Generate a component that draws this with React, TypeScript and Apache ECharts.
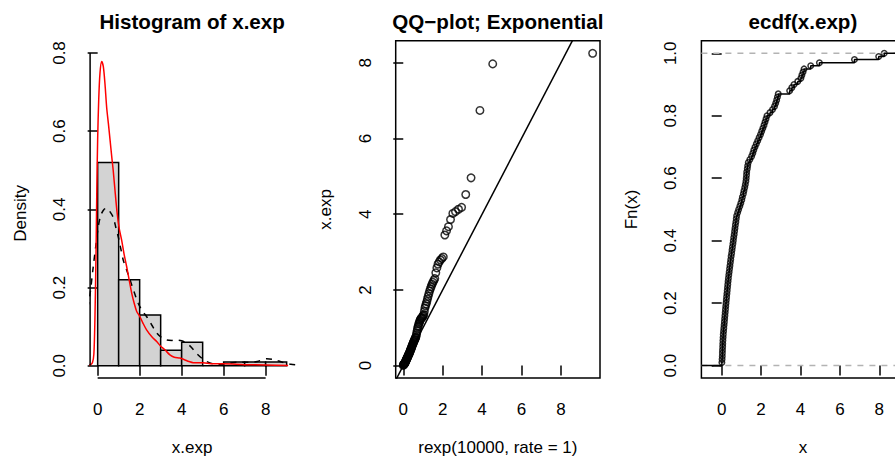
import React, { useEffect, useRef } from "react";
import * as echarts from "echarts";

// ---------------- data ----------------
const histBreaks = [0, 1, 2, 3, 4, 5, 6, 7, 8, 9];
const histDensity = [0.52, 0.22, 0.13, 0.04, 0.06, 0, 0.01, 0.01, 0.01];

// sorted sample x.exp (n = 100), read from the ECDF / QQ panels
const xExpSorted = [
  0.01, 0.02, 0.03, 0.035, 0.04, 0.05, 0.055, 0.062, 0.071, 0.08,
  0.094, 0.108, 0.122, 0.136, 0.15, 0.164, 0.178, 0.192, 0.206, 0.22,
  0.235, 0.25, 0.265, 0.28, 0.295, 0.31, 0.325, 0.34, 0.36, 0.38,
  0.4, 0.42, 0.44, 0.46, 0.48, 0.505, 0.525, 0.545, 0.57, 0.59,
  0.61, 0.635, 0.655, 0.675, 0.695, 0.72, 0.74, 0.76, 0.81, 0.86,
  0.92, 0.97, 1.02, 1.05, 1.1, 1.13, 1.17, 1.2, 1.23, 1.245,
  1.26, 1.27, 1.3, 1.32, 1.35, 1.43, 1.52, 1.58, 1.63, 1.69,
  1.76, 1.83, 1.9, 1.97, 2.03, 2.09, 2.15, 2.2, 2.25, 2.3,
  2.45, 2.58, 2.68, 2.74, 2.79, 2.83, 2.87, 3.45, 3.56, 3.67,
  3.86, 4.02, 4.07, 4.13, 4.18, 4.52, 4.96, 6.74, 7.97, 8.25,
];

// quantiles of rexp(10000, rate = 1) used as the QQ x positions
const qqTheoretical = [
  0, 0.01, 0.02, 0.031, 0.041, 0.052, 0.063, 0.073, 0.084, 0.095,
  0.106, 0.118, 0.129, 0.141, 0.152, 0.164, 0.176, 0.188, 0.201, 0.213,
  0.226, 0.238, 0.251, 0.264, 0.278, 0.291, 0.305, 0.318, 0.332, 0.347,
  0.361, 0.376, 0.39, 0.405, 0.421, 0.436, 0.452, 0.468, 0.484, 0.501,
  0.518, 0.535, 0.552, 0.57, 0.588, 0.606, 0.625, 0.644, 0.663, 0.683,
  0.703, 0.724, 0.745, 0.766, 0.788, 0.811, 0.834, 0.857, 0.882, 0.906,
  0.932, 0.958, 0.984, 1.012, 1.04, 1.069, 1.099, 1.129, 1.161, 1.194,
  1.228, 1.263, 1.299, 1.337, 1.376, 1.417, 1.46, 1.504, 1.551, 1.599,
  1.651, 1.705, 1.762, 1.823, 1.887, 1.956, 2.03, 2.11, 2.197, 2.293,
  2.398, 2.516, 2.649, 2.803, 2.96, 3.17, 3.44, 3.89, 4.54, 9.61,
];

// density(x.exp) — dashed black
const densityDashed: number[][] = [
  [-1.28, 0.003], [-1.0, 0.02], [-0.7, 0.08], [-0.5, 0.14], [-0.37, 0.18],
  [-0.21, 0.254], [-0.08, 0.31], [0.03, 0.356], [0.15, 0.385], [0.3, 0.4],
  [0.43, 0.403], [0.55, 0.397], [0.74, 0.38], [0.86, 0.355], [0.98, 0.33],
  [1.1, 0.3], [1.22, 0.27], [1.38, 0.245], [1.54, 0.22], [1.73, 0.19],
  [1.93, 0.16], [2.13, 0.14], [2.33, 0.126], [2.57, 0.105], [2.81, 0.084],
  [3.05, 0.072], [3.29, 0.066], [3.55, 0.065], [3.76, 0.066], [4.0, 0.064],
  [4.24, 0.058], [4.47, 0.047], [4.71, 0.032], [4.95, 0.02], [5.19, 0.011],
  [5.5, 0.005], [5.9, 0.004], [6.3, 0.007], [6.74, 0.0095], [7.2, 0.009],
  [7.6, 0.011], [8.05, 0.018], [8.4, 0.016], [8.8, 0.009], [9.2, 0.004],
  [9.54, 0.002],
];

// red density curve
const densityRed: number[][] = [
  [-0.6, 0], [-0.37, 0.002], [-0.25, 0.008], [-0.18, 0.03], [-0.13, 0.12],
  [-0.08, 0.28], [-0.04, 0.45], [0.0, 0.58], [0.05, 0.68], [0.11, 0.748],
  [0.19, 0.778], [0.27, 0.765], [0.35, 0.72], [0.43, 0.66], [0.51, 0.62],
  [0.59, 0.578], [0.67, 0.535], [0.74, 0.5], [0.84, 0.44], [0.93, 0.39],
  [1.03, 0.35], [1.14, 0.322], [1.26, 0.285], [1.38, 0.254], [1.5, 0.22],
  [1.62, 0.186], [1.74, 0.16], [1.86, 0.139], [2.01, 0.126], [2.15, 0.11],
  [2.33, 0.092], [2.57, 0.075], [2.81, 0.062], [3.0, 0.05], [3.2, 0.041],
  [3.44, 0.028], [3.65, 0.022], [3.92, 0.02], [4.16, 0.015], [4.35, 0.011],
  [4.55, 0.008], [5.03, 0.0075], [5.5, 0.005], [5.98, 0.005], [7.0, 0.003],
  [8.0, 0.002], [9.07, 0.001],
];

const histXTicks = [0, 2, 4, 6, 8];
const histYTicks = [0, 0.2, 0.4, 0.6, 0.8];
const qqXTicks = [0, 2, 4, 6, 8];
const qqYTicks = [0, 2, 4, 6, 8];
const ecdfXTicks = [0, 2, 4, 6, 8];
const ecdfYTicks = [0, 0.2, 0.4, 0.6, 0.8, 1.0];

const panelTitles = ["Histogram of x.exp", "QQ\u2212plot; Exponential", "ecdf(x.exp)"];
const xAxisTitles = ["x.exp", "rexp(10000, rate = 1)", "x"];
const yAxisTitles = ["Density", "x.exp", "Fn(x)"];

// ---------------- layout ----------------
const FONT = "'Liberation Sans', Arial, Helvetica, sans-serif";
const LW = 1.5;

const histX = [-0.36, 9.36];
const histY = [-0.0312, 0.811];
const qqX = [-0.384, 9.984];
const qqY = [-0.33, 8.58];
const ecdfX = [-1.03, 9.28];
const ecdfY = [-0.04, 1.04];

const grids = [
  { left: 90.1, top: 48.7, width: 204.1, height: 329.3, show: false },
  { left: 395.7, top: 40.8, width: 204.3, height: 337.3, show: true },
  { left: 701.4, top: 40.8, width: 203.1, height: 337.3, show: true },
];

function mkAxis(gridIndex: number, range: number[], ticks: number[], decimals: number, isY: boolean) {
  return {
    type: "value",
    gridIndex,
    min: range[0],
    max: range[1],
    splitLine: { show: false },
    axisLine: { show: false },
    axisTick: {
      show: true,
      inside: false,
      length: 10,
      customValues: ticks,
      lineStyle: { color: "#000", width: LW },
    },
    axisLabel: {
      show: true,
      customValues: ticks,
      formatter: (v: number) => v.toFixed(decimals),
      rotate: isY ? 90 : 0,
      margin: isY ? 22 : 23,
      color: "#000",
      fontSize: 17,
      fontFamily: FONT,
    },
  };
}

function textEl(text: string, x: number, y: number, size: number, bold: boolean, rotation = 0) {
  return {
    type: "text",
    x,
    y,
    rotation,
    silent: true,
    style: {
      text,
      fill: "#000",
      fontSize: size,
      fontFamily: FONT,
      fontWeight: bold ? "bold" : "normal",
      textAlign: "center",
      textVerticalAlign: "middle",
      verticalAlign: "middle",
    },
  };
}

export default function App() {
  const ref = useRef<HTMLDivElement>(null);

  useEffect(() => {
    if (!ref.current) return;
    const chart = echarts.init(ref.current, undefined, { renderer: "svg" });

    const centersX = grids.map((g) => g.left + g.width / 2);
    const centersY = grids.map((g) => g.top + g.height / 2);

    const histData = histDensity.map((d, i) => [histBreaks[i], histBreaks[i + 1], d]);
    const qqData = xExpSorted.map((v, i) => [qqTheoretical[i], v]);
    const n = xExpSorted.length;
    const ecdfPoints = xExpSorted.map((v, i) => [v, (i + 1) / n]);
    const ecdfLine = [[ecdfX[0], 0], ...ecdfPoints, [ecdfX[1], 1]];

    const option: any = {
      animation: false,
      backgroundColor: "#fff",
      grid: grids.map((g) => ({
        left: g.left,
        top: g.top,
        width: g.width,
        height: g.height,
        containLabel: false,
        outerBoundsMode: "none",
        show: g.show,
        borderColor: "#000",
        borderWidth: LW,
        backgroundColor: "transparent",
      })),
      xAxis: [
        mkAxis(0, histX, histXTicks, 0, false),
        mkAxis(1, qqX, qqXTicks, 0, false),
        mkAxis(2, ecdfX, ecdfXTicks, 0, false),
      ],
      yAxis: [
        mkAxis(0, histY, histYTicks, 1, true),
        mkAxis(1, qqY, qqYTicks, 0, true),
        mkAxis(2, ecdfY, ecdfYTicks, 1, true),
      ],
      graphic: [
        ...panelTitles.map((t, i) => textEl(t, centersX[i], 21.5, 20.6, true)),
        ...xAxisTitles.map((t, i) => textEl(t, centersX[i], 447.5, 17, false)),
        ...yAxisTitles.map((t, i) => textEl(t, grids[i].left - 70, centersY[i], 17, false, Math.PI / 2)),
      ],
      series: [
        {
          type: "custom",
          xAxisIndex: 0,
          yAxisIndex: 0,
          silent: true,
          encode: { x: [0, 1], y: 2 },
          data: histData,
          renderItem: (_p: any, api: any) => {
            const p0 = api.coord([api.value(0), api.value(2)]);
            const p1 = api.coord([api.value(1), 0]);
            return {
              type: "rect",
              shape: { x: p0[0], y: p0[1], width: p1[0] - p0[0], height: p1[1] - p0[1] },
              style: { fill: "#D3D3D3", stroke: "#000", lineWidth: LW },
            };
          },
        },
        {
          type: "line",
          xAxisIndex: 0,
          yAxisIndex: 0,
          data: densityDashed,
          showSymbol: false,
          symbol: "none",
          smooth: 0.3,
          silent: true,
          lineStyle: { color: "#000", width: LW, type: [6, 6] },
        },
        {
          type: "line",
          xAxisIndex: 0,
          yAxisIndex: 0,
          data: densityRed,
          showSymbol: false,
          symbol: "none",
          smooth: 0.3,
          silent: true,
          lineStyle: { color: "#FF0000", width: LW },
        },
        {
          type: "line",
          xAxisIndex: 0,
          yAxisIndex: 0,
          clip: false,
          symbol: "none",
          silent: true,
          data: [[histXTicks[0], histY[0]], [histXTicks[histXTicks.length - 1], histY[0]]],
          lineStyle: { color: "#000", width: LW },
        },
        {
          type: "line",
          xAxisIndex: 0,
          yAxisIndex: 0,
          clip: false,
          symbol: "none",
          silent: true,
          data: [[histX[0], histYTicks[0]], [histX[0], histYTicks[histYTicks.length - 1]]],
          lineStyle: { color: "#000", width: LW },
        },
        {
          type: "scatter",
          xAxisIndex: 1,
          yAxisIndex: 1,
          data: qqData,
          symbol: "circle",
          symbolSize: 7.5,
          silent: true,
          itemStyle: { color: "rgba(0,0,0,0)", borderColor: "#000", borderWidth: 1.5 },
        },
        {
          type: "line",
          xAxisIndex: 1,
          yAxisIndex: 1,
          symbol: "none",
          silent: true,
          data: [[qqX[0], qqX[0]], [qqX[1], qqX[1]]],
          lineStyle: { color: "#000", width: LW },
        },
        {
          type: "line",
          xAxisIndex: 2,
          yAxisIndex: 2,
          symbol: "none",
          silent: true,
          data: [[ecdfX[0], 0], [ecdfX[1], 0]],
          lineStyle: { color: "#B3B3B3", width: LW, type: [6, 6] },
        },
        {
          type: "line",
          xAxisIndex: 2,
          yAxisIndex: 2,
          symbol: "none",
          silent: true,
          data: [[ecdfX[0], 1], [ecdfX[1], 1]],
          lineStyle: { color: "#B3B3B3", width: LW, type: [6, 6] },
        },
        {
          type: "line",
          xAxisIndex: 2,
          yAxisIndex: 2,
          step: "end",
          symbol: "none",
          silent: true,
          data: ecdfLine,
          lineStyle: { color: "#000", width: LW },
        },
        {
          type: "scatter",
          xAxisIndex: 2,
          yAxisIndex: 2,
          data: ecdfPoints,
          symbol: "circle",
          symbolSize: 5.5,
          silent: true,
          itemStyle: { color: "rgba(0,0,0,0)", borderColor: "#000", borderWidth: 1.5 },
        },
      ],
    };

    chart.setOption(option);
    return () => {
      chart.dispose();
    };
  }, []);

  return (
    <div
      ref={ref}
      style={{ position: "absolute", left: 0, top: 0, width: 895, height: 459 }}
    />
  );
}
